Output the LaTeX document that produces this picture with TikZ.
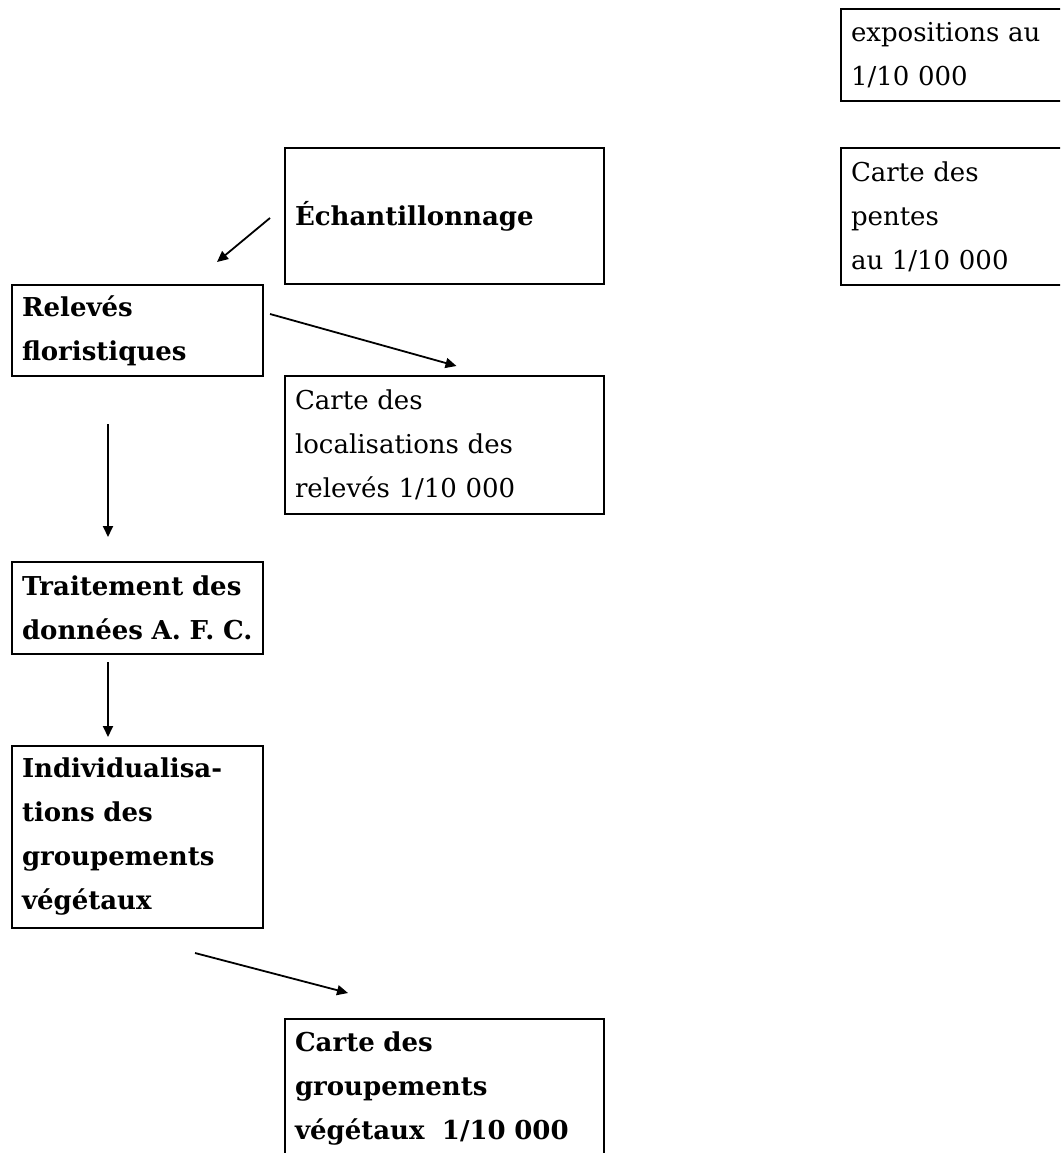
\documentclass[tikz,border=0pt]{standalone}
\usepackage{fontspec}
\setmainfont{DejaVu Serif}
\usetikzlibrary{arrows.meta,positioning,calc}

\tikzset{
  box/.style={draw, line width=2pt, outer sep=0pt, anchor=north west, align=left,
    inner xsep=10pt, inner ysep=0pt, font=\fontsize{26}{44}\selectfont},
  boldbox/.style={box, font=\fontsize{26}{44}\selectfont\bfseries},
  arr/.style={line width=1.8pt, -{Triangle[length=11pt,width=10pt]}}
}

\begin{document}
\begin{tikzpicture}[x=1pt,y=-1pt]
    \useasboundingbox (0,0) rectangle (1060,1153);
    \clip (0,0) rectangle (1060,1153);
    % maps on the right
    \node[box, text width=300pt, minimum height=92pt] (expo) at (841,9) {expositions au\\1/10~000};
    \node[box, text width=300pt, minimum height=137pt] (pente) at (841,148) {Carte des\\pentes\\au 1/10~000};
    % main chain
    \node[boldbox, text width=299pt, minimum height=136pt] (ech) at (285,148) {Échantillonnage};
    \node[boldbox, text width=231pt, minimum height=91pt] (rel) at (12,285) {Relevés\\floristiques};
    \node[box, text width=299pt, minimum height=138pt] (loc) at (285,376) {Carte des\\localisations des\\relevés 1/10~000};
    \node[boldbox, text width=231pt, minimum height=92pt] (trt) at (12,562) {Traitement des\\données A. F. C.};
    \node[boldbox, text width=231pt, minimum height=182pt] (ind) at (12,746) {Individualisa-\\tions des\\groupements\\végétaux};
    \node[boldbox, text width=299pt, minimum height=138pt] (grp) at (285,1019) {Carte des\\groupements\\végétaux~~1/10~000};
    % arrows
    \draw[arr] ($(ech.west)+(-15,2)$) -- ($(rel.north east)+(-46,-23)$);
    \draw[arr] ($(rel.north east)+(7,29)$) -- ($(loc.north)+(12,-10)$);
    \draw[arr] ($(rel.south west)+(96,48)$) -- ($(trt.north west)+(96,-25)$);
    \draw[arr] ($(trt.south west)+(96,8)$) -- ($(ind.north west)+(96,-9)$);
    \draw[arr] ($(ind.south west)+(183,25)$) -- ($(grp.north west)+(63,-26)$);
\end{tikzpicture}
\end{document}
